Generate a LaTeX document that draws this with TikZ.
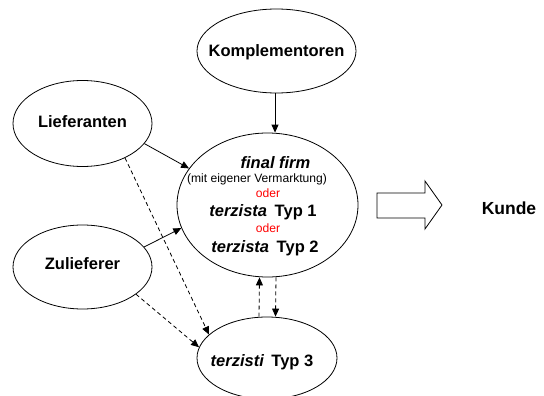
\documentclass[tikz,border=0pt]{standalone}
\usepackage{fontspec}
\setmainfont{Liberation Sans}
\usetikzlibrary{shapes.geometric,arrows.meta}
\definecolor{oderred}{RGB}{255,0,0}
\begin{document}
\begin{tikzpicture}[x=1pt,y=-1pt,
  ell/.style={draw,ellipse,line width=0.8pt,inner sep=0pt},
  lbl/.style={font=\fontsize{16.5}{18}\selectfont\bfseries,inner sep=0pt},
  small/.style={font=\fontsize{12.1}{14}\selectfont,inner sep=0pt},
  con/.style={line width=0.8pt,-{Triangle[length=8pt,width=7pt]}},
  dcon/.style={con,dash pattern=on 4pt off 3pt}]
\useasboundingbox (0,0) rectangle (544,396);
% ellipses
\node[ell,minimum width=159pt,minimum height=84pt] (kp) at (276.5,51) {};
\node[lbl] at (276.5,52) {Komplementoren};
\node[ell,minimum width=139pt,minimum height=86pt] (li) at (82.5,123.5) {};
\node[lbl] at (82.5,122) {Lieferanten};
\node[ell,minimum width=139pt,minimum height=84pt] (zu) at (82.5,267) {};
\node[lbl] at (82.5,264) {Zulieferer};
\node[ell,minimum width=181pt,minimum height=144pt] (ff) at (267.5,205) {};
\node[ell,minimum width=140pt,minimum height=82pt] (t3) at (267,358) {};
\node[lbl] at (262,362) {\itshape terzisti\hspace{3pt} \upshape Typ 3};
% central texts
\node[lbl] (f1) at (275.5,163) {\itshape final firm};
\node[small] (f2) at (257,179) {(mit eigener Vermarktung)};
\node[small,text=oderred] (f3) at (268,193) {oder};
\node[lbl] (f4) at (263,212) {\itshape terzista\hspace{3pt} \upshape Typ 1};
\node[small,text=oderred] (f5) at (268,228) {oder};
\node[lbl] (f6) at (265,248) {\itshape terzista\hspace{3pt} \upshape Typ 2};
% connectors
\draw[con] (kp.-92) -- (kp.-92 |- ff.north);
\draw[con] (li.-18) -- (ff.155);
\draw[con] (zu.18) -- (ff.-165.6);
\draw[dcon] (li.-39) -- (t3.158.6);
\draw[dcon] (zu.-27) -- (t3.171);
\draw[dcon] ([xshift=-8pt]t3.north) -- ([xshift=-8pt]ff.south);
\draw[dcon] ([xshift=8.5pt]ff.south) -- ([xshift=8.5pt]t3.north);
% block arrow
\draw[line width=0.8pt,line join=miter] (377,193) -- (425,193) -- (425,181) -- (442,205) -- (425,229) -- (425,218) -- (377,218) -- cycle;
\node[lbl,font=\fontsize{17.5}{19}\selectfont\bfseries] (kunde) at (509,208) {Kunde};
\end{tikzpicture}
\end{document}
